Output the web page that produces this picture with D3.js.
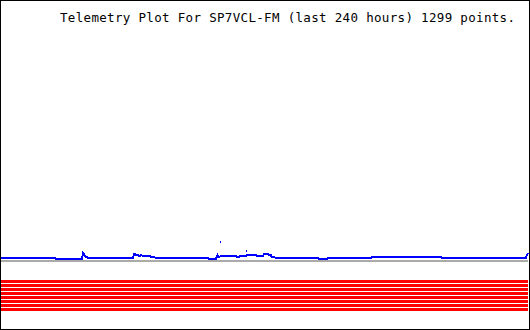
<!DOCTYPE html>
<html>
<head>
<meta charset="utf-8">
<script src="https://cdn.jsdelivr.net/npm/d3@7"></script>
<style>
  body { margin: 0; background: #fff; }
  svg { display: block; }
</style>
</head>
<body>
<div id="chart"></div>
<script>
// titre et données (heures depuis le début, valeur brute)
var titre = "Telemetry Plot For SP7VCL-FM (last 240 hours) 1299 points.";

var heures_max = 240;

// canal analogique 1 (bleu)
var canal1_heures = [0, 24.6, 25.0, 36.9, 37.4, 38.3, 39.6, 60.1, 60.6, 61.9, 63.3, 63.8, 64.5, 68.0, 68.5, 71.5,
    94.3, 94.6, 97.9, 98.6, 99.3, 100.2, 107.0, 107.4, 108.4, 108.8, 111.6, 112.0, 116.1, 116.5, 119.3, 119.7,
    121.6, 122.0, 122.9, 123.3, 126.1, 144.4, 144.8, 148.5, 148.9, 168.5, 168.9, 200.4, 200.8, 239.1, 239.5, 240];
var canal1_valeurs = [72, 72, 71, 71, 77, 74, 72, 72, 76, 75, 74, 75, 74, 74, 73, 72,
    72, 71, 71, 75, 73, 74, 74, 73, 73, 74, 74, 75, 75, 74, 74, 76,
    76, 75, 75, 73, 72, 72, 71, 71, 72, 72, 73, 73, 72, 72, 75, 77];

// points isolés du canal 1
var canal1_points_heures = [99.7, 111.6];
var canal1_points_valeurs = [87.5, 79];

// canal analogique 2 (gris)
var canal2_heures = [0, 240];
var canal2_valeurs = [69, 69];

// bits numériques (rouge)
var bits_noms = ["B1", "B2", "B3", "B4", "B5", "B6", "B7", "B8"];
var bits_valeurs = [48.5, 44.5, 40.5, 36.5, 32.5, 28.5, 24.5, 20.5];

var width = 530;
var height = 330;

var svg = d3.select("#chart").append("svg")
    .attr("width", width)
    .attr("height", height);

var x = d3.scaleLinear()
    .domain([0, heures_max])
    .range([1, 528]);

var y = d3.scaleLinear()
    .domain([0, 300])
    .range([330, 30]);

// cadre
svg.append("rect")
    .attr("x", 0.5)
    .attr("y", 0.5)
    .attr("width", width - 1)
    .attr("height", height - 1)
    .attr("fill", "#fff")
    .attr("stroke", "#000")
    .attr("stroke-width", 1);

// titre
svg.append("text")
    .attr("x", 60)
    .attr("y", 22)
    .attr("textLength", 455)
    .attr("lengthAdjust", "spacing")
    .style("font-family", "'DejaVu Sans Mono', 'Liberation Mono', monospace")
    .style("font-size", "12.5px")
    .attr("fill", "#000")
    .text(titre);

var ligne = d3.line()
    .x(function (d) { return x(d[0]); })
    .y(function (d) { return y(d[1]); });

// bits en rouge
bits_valeurs.forEach(function (v) {
    svg.append("path")
        .attr("d", ligne([[0, v], [heures_max, v]]))
        .attr("fill", "none")
        .attr("stroke", "#ff0000")
        .attr("stroke-width", 3)
        .attr("shape-rendering", "crispEdges");
});

// canal 2
svg.append("path")
    .attr("d", ligne(d3.zip(canal2_heures, canal2_valeurs)))
    .attr("fill", "none")
    .attr("stroke", "#aaaaaa")
    .attr("stroke-width", 2)
    .attr("shape-rendering", "crispEdges");

// canal 1
svg.append("path")
    .attr("d", ligne(d3.zip(canal1_heures, canal1_valeurs)))
    .attr("fill", "none")
    .attr("stroke", "#0000ff")
    .attr("stroke-width", 2)
    .attr("shape-rendering", "crispEdges");

svg.selectAll(".point")
    .data(d3.zip(canal1_points_heures, canal1_points_valeurs))
    .enter()
    .append("rect")
    .attr("class", "point")
    .attr("x", function (d) { return Math.round(x(d[0])); })
    .attr("y", function (d) { return Math.round(y(d[1])) - 1; })
    .attr("width", 1)
    .attr("height", 2)
    .attr("fill", "#0000ff");
</script>
</body>
</html>
